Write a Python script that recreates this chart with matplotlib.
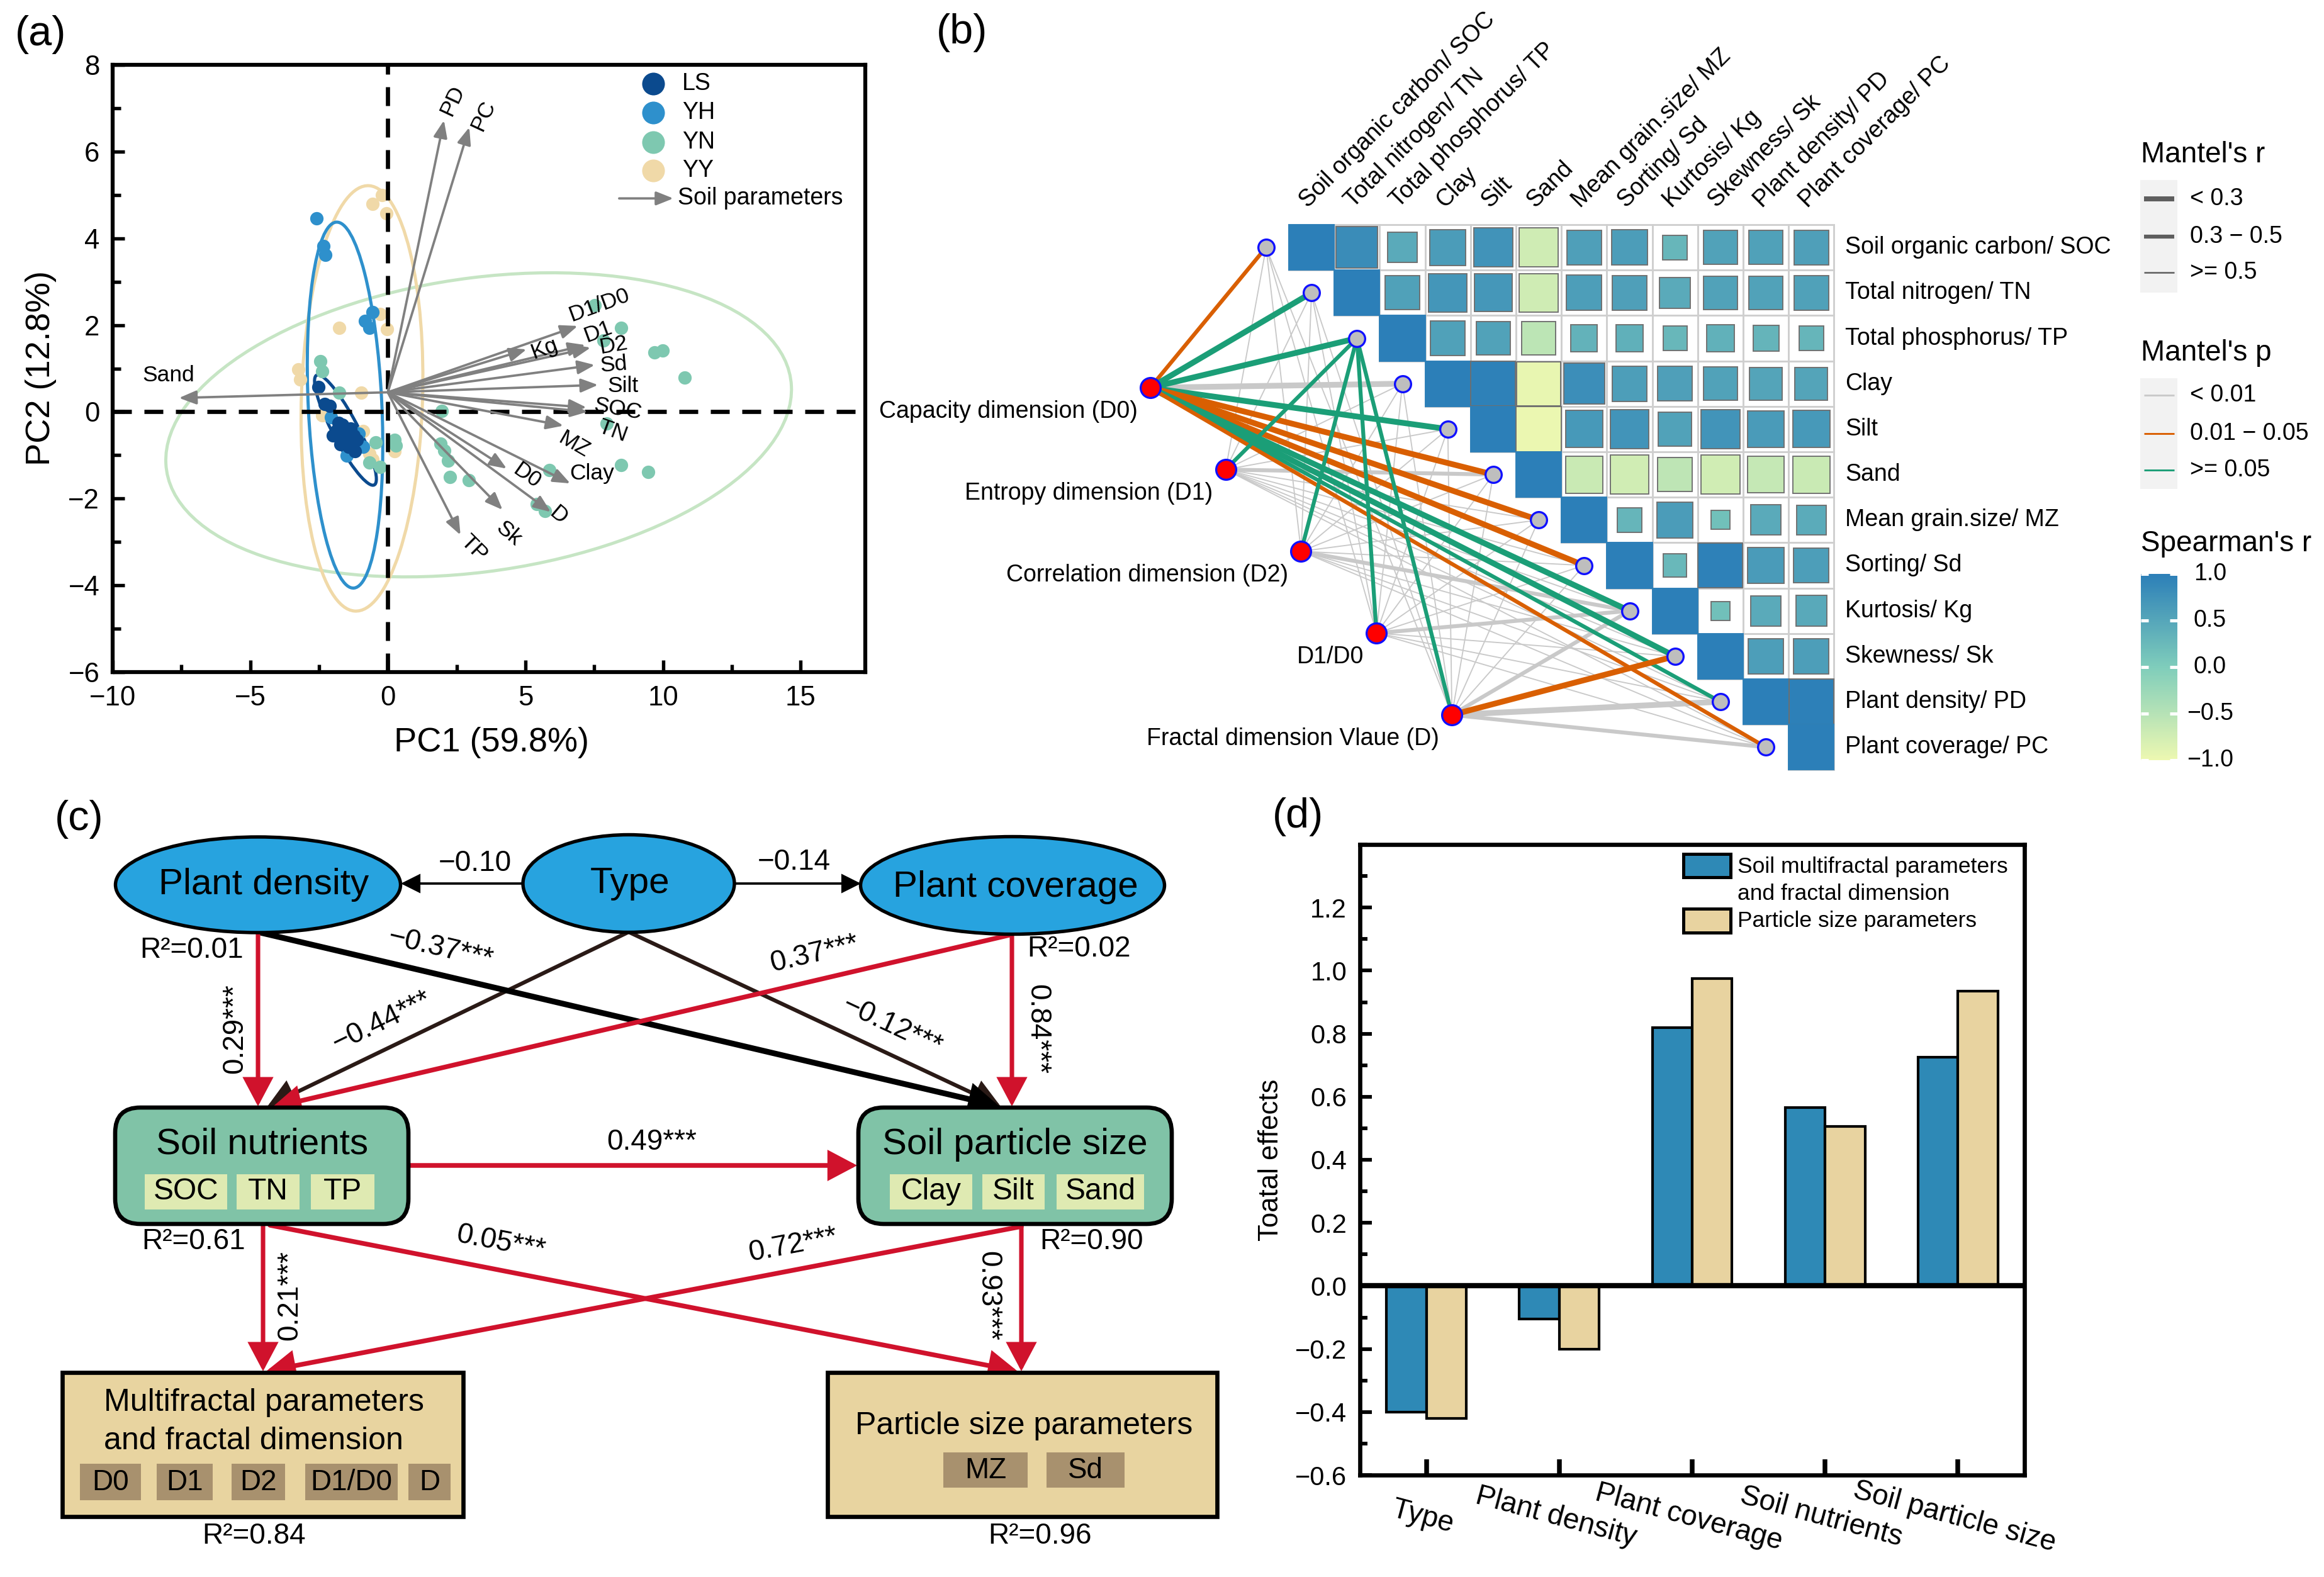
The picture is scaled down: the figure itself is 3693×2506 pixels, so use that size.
import numpy as np
import matplotlib
matplotlib.use('Agg')
import matplotlib.pyplot as plt
from matplotlib.patches import Ellipse, Rectangle, FancyBboxPatch, FancyArrowPatch
from matplotlib.colors import LinearSegmentedColormap, Normalize
import matplotlib.colorbar as mcb
from matplotlib.ticker import MultipleLocator

plt.rcParams['font.family'] = ['Liberation Sans', 'DejaVu Sans']
plt.rcParams['axes.unicode_minus'] = True

# ======================= DATA =======================
# ---- (a) PCA scores ----
ls_pc1 = [-2.53, -2.30, -2.12, -1.89, -1.58, -1.35, -1.43, -1.73, -2.00, -1.13, -1.20, -1.65, -1.50, -1.80, -1.25]
ls_pc2 = [0.57, 0.18, 0.13, -0.44, -0.60, -0.39, -0.81, -0.75, -0.55, -0.65, -0.91, -0.30, -0.50, -0.25, -0.55]
yh_pc1 = [-2.58, -2.33, -2.27, -0.55, -0.82, -0.67, -2.07, -1.05, -1.50, -0.90]
yh_pc2 = [4.46, 3.82, 3.62, 2.30, 2.10, 1.94, -0.13, -0.50, -1.01, -0.80]
yn_pc1 = [-2.46, -2.38, -1.77, 0.24, -0.45, -0.67, -0.29, 0.28, 7.52, 8.47, 7.83, 9.69, 9.99,
          10.79, 1.96, 1.92, 2.04, 2.19, 2.26, 2.95, 5.88, 8.47, 9.46, 5.42, 5.72, 7.94]
yn_pc2 = [1.16, 0.93, 0.44, -0.65, -0.70, -1.17, -1.27, -0.77, 2.46, 1.93, 1.64, 1.37, 1.42,
          0.79, 0.02, -0.73, -0.90, -1.12, -1.50, -1.58, -1.34, -1.22, -1.39, -2.12, -2.29, -0.27]
yy_pc1 = [-0.21, -0.55, -0.06, -1.77, -0.02, -0.29, -3.26, -3.18, -0.97, -2.38, -0.90, 0.24, -0.67, -0.55]
yy_pc2 = [5.00, 4.79, 4.58, 1.94, 1.91, 2.25, 0.98, 0.75, 0.44, -0.08, -0.44, -0.91, -0.96, -1.10]

# confidence ellipses (centre x, centre y, major, minor, angle in data units)
ell_ls = (-1.54, -0.42, 3.30, 0.80, -49.0)
ell_yh = (-1.555, 0.155, 8.46, 2.67, 94.5)
ell_yn = (3.30, -0.30, 22.8, 6.8, 4.5)
ell_yy = (-0.94, 0.31, 9.82, 4.40, 86.8)

# loadings (soil parameters)
loading_names = ['PD', 'PC', 'Sand', 'D1/D0', 'D1', 'D2', 'Kg', 'Sd', 'Silt', 'SOC', 'TN', 'MZ',
                 'Clay', 'D0', 'D', 'Sk', 'TP']
loading_x = [2.04, 2.96, -7.59, 6.90, 7.18, 7.37, 5.04, 7.52, 7.64, 7.22, 7.26, 6.38, 6.63, 4.32, 5.92, 4.17, 2.64]
loading_y = [6.72, 6.56, 0.32, 1.98, 1.54, 1.48, 1.44, 1.08, 0.62, 0.10, 0.00, -0.32, -1.65, -1.31, -2.31, -2.26, -2.84]
loading_origin = (0.0, 0.45)

# ---- (b) Spearman correlation (upper triangle rows) ----
corr_labels = ['Soil organic carbon/ SOC', 'Total nitrogen/ TN', 'Total phosphorus/ TP', 'Clay', 'Silt',
               'Sand', 'Mean grain.size/ MZ', 'Sorting/ Sd', 'Kurtosis/ Kg', 'Skewness/ Sk',
               'Plant density/ PD', 'Plant coverage/ PC']
spearman_rows = [
    [1.00, 0.83, 0.44, 0.62, 0.74, -0.72, 0.58, 0.61, 0.29, 0.55, 0.56, 0.58],
    [1.00, 0.56, 0.71, 0.69, -0.72, 0.60, 0.58, 0.45, 0.55, 0.55, 0.57],
    [1.00, 0.57, 0.55, -0.55, 0.34, 0.37, 0.28, 0.36, 0.32, 0.30],
    [1.00, 0.97, -0.95, 0.80, 0.60, 0.58, 0.55, 0.52, 0.52],
    [1.00, -0.98, 0.67, 0.73, 0.55, 0.73, 0.64, 0.67],
    [1.00, -0.67, -0.73, -0.57, -0.73, -0.64, -0.67],
    [1.00, 0.30, 0.63, 0.17, 0.44, 0.43],
    [1.00, 0.27, 0.97, 0.64, 0.60],
    [1.00, 0.17, 0.44, 0.46],
    [1.00, 0.60, 0.60],
    [1.00, 0.98],
    [1.00],
]
mantel_groups = ['Capacity dimension (D0)', 'Entropy dimension (D1)', 'Correlation dimension (D2)',
                 'D1/D0', 'Fractal dimension Vlaue (D)']
#                 SOC   TN    TP    Clay  Silt  Sand  MZ    Sd    Kg    Sk    PD    PC
mantel_r = [[0.35, 0.20, 0.15, 0.22, 0.20, 0.20, 0.20, 0.25, 0.20, 0.20, 0.35, 0.40],
            [0.60, 0.60, 0.35, 0.60, 0.60, 0.45, 0.60, 0.60, 0.60, 0.60, 0.60, 0.60],
            [0.60, 0.60, 0.35, 0.60, 0.60, 0.60, 0.60, 0.60, 0.45, 0.60, 0.60, 0.60],
            [0.60, 0.60, 0.35, 0.60, 0.60, 0.60, 0.60, 0.60, 0.45, 0.60, 0.60, 0.60],
            [0.60, 0.60, 0.35, 0.60, 0.60, 0.60, 0.60, 0.60, 0.40, 0.22, 0.20, 0.40]]
mantel_p = [[0.030, 0.200, 0.200, 0.005, 0.200, 0.030, 0.030, 0.030, 0.200, 0.200, 0.200, 0.030],
            [0.005, 0.005, 0.200, 0.005, 0.005, 0.005, 0.005, 0.005, 0.005, 0.005, 0.005, 0.005],
            [0.005, 0.005, 0.200, 0.005, 0.005, 0.005, 0.005, 0.005, 0.005, 0.005, 0.005, 0.005],
            [0.005, 0.005, 0.200, 0.005, 0.005, 0.005, 0.005, 0.005, 0.005, 0.005, 0.005, 0.005],
            [0.005, 0.005, 0.200, 0.005, 0.005, 0.005, 0.005, 0.005, 0.005, 0.030, 0.005, 0.005]]

# ---- (c) SEM path coefficients ----
path_type_pd = '−0.10'
path_type_pc = '−0.14'
path_labels = {
    'pd_sn': '0.29***', 'pd_sps': '−0.37***', 'type_sn': '−0.44***', 'type_sps': '−0.12***',
    'pc_sn': '0.37***', 'pc_sps': '0.84***', 'sn_sps': '0.49***', 'sn_mf': '0.21***',
    'sn_ps': '0.05***', 'sps_mf': '0.72***', 'sps_ps': '0.93***'}
r2_labels = {'pd': 'R²=0.01', 'pc': 'R²=0.02', 'sn': 'R²=0.61', 'sps': 'R²=0.90',
             'mf': 'R²=0.84', 'ps': 'R²=0.96'}

# ---- (d) total effects ----
effect_categories = ['Type', 'Plant density', 'Plant coverage', 'Soil nutrients', 'Soil particle size']
effect_multifractal = [-0.40, -0.105, 0.82, 0.565, 0.725]
effect_particle = [-0.42, -0.20, 0.975, 0.505, 0.935]

# ======================= FIGURE =======================
W, H = 3693, 2506
DPI = 300
fig = plt.figure(figsize=(W / DPI, H / DPI), dpi=DPI)


def fbox(x0, y0, x1, y1):
    return [x0 / W, 1 - y1 / H, (x1 - x0) / W, (y1 - y0) / H]


ov = fig.add_axes([0, 0, 1, 1])
ov.set_xlim(0, W)
ov.set_ylim(H, 0)
ov.axis('off')

for (x, y, t) in [(24, 55, '(a)'), (1488, 52, '(b)'), (87, 1302, '(c)'), (2022, 1298, '(d)')]:
    ov.text(x, y, t, fontsize=16, ha='left', va='center')

# ======================= (a) =======================
col_ls, col_yh, col_yn, col_yy = '#0b4a8e', '#2e90cc', '#7ec8b0', '#f0d9a8'
ecol_ls, ecol_yh, ecol_yn, ecol_yy = '#0b4a8e', '#2e90cc', '#c6e5c4', '#f0d9a8'

axA = fig.add_axes(fbox(179, 103, 1375, 1068))
axA.set_xlim(-10, 17.35)
axA.set_ylim(-6, 8)
for sp in axA.spines.values():
    sp.set_linewidth(1.5)
axA.xaxis.set_major_locator(MultipleLocator(5))
axA.xaxis.set_minor_locator(MultipleLocator(2.5))
axA.yaxis.set_major_locator(MultipleLocator(2))
axA.yaxis.set_minor_locator(MultipleLocator(1))
axA.tick_params(which='major', direction='in', length=4.5, width=1.3, labelsize=10.5, pad=5)
axA.tick_params(which='minor', direction='in', length=3, width=1.3)
axA.set_xlabel('PC1 (59.8%)', fontsize=13)
axA.set_ylabel('PC2 (12.8%)', fontsize=13)
axA.xaxis.set_label_coords(0.503, -0.09)
axA.yaxis.set_label_coords(-0.074, 0.5)

for (cx, cy, a, b, ang), ec, lw in [(ell_yn, ecol_yn, 1.2), (ell_yy, ecol_yy, 1.2),
                                     (ell_yh, ecol_yh, 1.2), (ell_ls, ecol_ls, 1.2)]:
    axA.add_patch(Ellipse((cx, cy), a, b, angle=ang, facecolor='none', edgecolor=ec, lw=lw, zorder=1))

ms = 26
axA.scatter(yy_pc1, yy_pc2, s=ms, color=col_yy, zorder=2, linewidths=0)
axA.scatter(yn_pc1, yn_pc2, s=ms, color=col_yn, zorder=2, linewidths=0)
axA.scatter(yh_pc1, yh_pc2, s=ms, color=col_yh, zorder=2, linewidths=0)
axA.scatter(ls_pc1, ls_pc2, s=ms, color=col_ls, zorder=2, linewidths=0)

axA.axvline(0, color='black', lw=1.6, ls=(0, (4.5, 3)), zorder=2.5)
axA.axhline(0, color='black', lw=1.6, ls=(0, (4.5, 3)), zorder=2.5)

for x, y in zip(loading_x, loading_y):
    axA.annotate('', xy=(x, y), xytext=loading_origin,
                 arrowprops=dict(arrowstyle='-|>,head_length=0.55,head_width=0.22', mutation_scale=10,
                                 color='#808080', lw=0.9, shrinkA=0, shrinkB=0), zorder=3)

lab_x = [2.35, 3.47, -7.96, 7.68, 7.64, 8.20, 5.69, 8.20, 8.55, 8.36, 8.17, 6.76, 7.41, 5.04, 6.19, 4.40, 3.13]
lab_y = [7.17, 6.83, 0.84, 2.46, 1.85, 1.54, 1.45, 1.08, 0.60, 0.06, -0.44, -0.76, -1.43, -1.48, -2.38, -2.81, -3.15]
lab_rot = [65, 65, 0, 20, 20, 10, 20, 5, 0, -10, -20, -30, 0, -35, -40, -40, -45]
for name, x, y, r in zip(loading_names, lab_x, lab_y, lab_rot):
    axA.text(x, y, name, fontsize=8.5, ha='center', va='center', rotation=r, rotation_mode='anchor', zorder=4)

# legend (a)
leg_y = [0.969, 0.921, 0.873, 0.826]
for yy, c, t in zip(leg_y, [col_ls, col_yh, col_yn, col_yy], ['LS', 'YH', 'YN', 'YY']):
    axA.scatter([0.718], [yy], s=75, color=c, transform=axA.transAxes, clip_on=False, zorder=5, linewidths=0)
    axA.text(0.757, yy, t, transform=axA.transAxes, fontsize=9, va='center', ha='left')
axA.annotate('', xy=(0.745, 0.780), xytext=(0.673, 0.780), xycoords='axes fraction',
             arrowprops=dict(arrowstyle='-|>,head_length=0.55,head_width=0.22', mutation_scale=10,
                             color='#808080', lw=0.9, shrinkA=0, shrinkB=0))
axA.text(0.751, 0.780, 'Soil parameters', transform=axA.transAxes, fontsize=9, va='center', ha='left')

# ======================= (b) =======================
cmap = LinearSegmentedColormap.from_list('spear', ['#edf8b1', '#7fcdbb', '#2c7fb8'])
norm = Normalize(-1, 1)
cell = 72.2
gx0, gy0 = 2048, 357
axB = fig.add_axes(fbox(1400, 0, 3693, 1250))
axB.set_xlim((1400 - gx0) / cell, (3693 - gx0) / cell)
axB.set_ylim((1250 - gy0) / cell, (0 - gy0) / cell)
axB.axis('off')

n = len(corr_labels)
for i, row in enumerate(spearman_rows):
    for k, r in enumerate(row):
        j = i + k
        axB.add_patch(Rectangle((j, i), 1, 1, facecolor='white', edgecolor='#cfcfcf', lw=0.7, zorder=1))
for i, row in enumerate(spearman_rows):
    for k, r in enumerate(row):
        j = i + k
        s = np.sqrt(abs(r))
        ec = cmap(norm(r)) if j == i else '#6e6e6e'
        axB.add_patch(Rectangle((j + 0.5 - s / 2, i + 0.5 - s / 2), s, s, facecolor=cmap(norm(r)),
                                edgecolor=ec, lw=0.45, zorder=2))

for j, lab in enumerate(corr_labels):
    axB.text(j + 0.5, -0.28, lab, rotation=45, rotation_mode='anchor', ha='left', va='bottom', fontsize=9)
    axB.text(12.25, j + 0.5, lab, ha='left', va='center', fontsize=9)

red_x = np.linspace(-3.05, 3.59, 5)
red_y = np.linspace(3.59, 10.79, 5)
node_x = np.arange(n) - 0.5
node_y = np.arange(n) + 0.5


def p_col(p):
    return '#c9c9c9' if p < 0.01 else ('#d95f02' if p < 0.05 else '#1b9e77')


def r_lw(r):
    return 2.2 if r < 0.3 else (1.5 if r < 0.5 else 0.45)


links = []
for g in range(5):
    for v in range(n):
        links.append((g, v, mantel_r[g][v], mantel_p[g][v]))
links.sort(key=lambda t: (0 if t[3] < 0.01 else 1))
for g, v, r, p in links:
    axB.plot([red_x[g], node_x[v]], [red_y[g], node_y[v]], color=p_col(p), lw=r_lw(r),
             solid_capstyle='butt', zorder=3 if p < 0.01 else 4)

axB.scatter(node_x, node_y, s=38, facecolor='#bebebe', edgecolor='#1010ff', linewidths=0.8, zorder=6)
axB.scatter(red_x, red_y, s=58, facecolor='#ff0000', edgecolor='#1010ff', linewidths=0.8, zorder=6)
for g, lab in enumerate(mantel_groups):
    axB.text(red_x[g] - 0.28, red_y[g] + 0.52, lab, ha='right', va='center', fontsize=9)

# legends (b)
ov.text(3402, 246, "Mantel's r", fontsize=11, ha='left', va='center')
ov.add_patch(Rectangle((3401, 286), 59, 179, facecolor='#f2f2f2', edgecolor='none'))
for yy, lw, t in [(316, 1.9, '< 0.3'), (376, 1.5, '0.3 − 0.5'), (433, 0.6, '>= 0.5')]:
    ov.plot([3407, 3455], [yy, yy], color='#5e5e5e', lw=lw, solid_capstyle='butt')
    ov.text(3480, yy, t, fontsize=9, ha='left', va='center')
ov.text(3402, 561, "Mantel's p", fontsize=11, ha='left', va='center')
ov.add_patch(Rectangle((3401, 601), 59, 176, facecolor='#f2f2f2', edgecolor='none'))
for yy, c, t in [(628, '#c9c9c9', '< 0.01'), (689, '#d95f02', '0.01 − 0.05'), (747, '#1b9e77', '>= 0.05')]:
    ov.plot([3407, 3455], [yy, yy], color=c, lw=0.7, solid_capstyle='butt')
    ov.text(3480, yy, t, fontsize=9, ha='left', va='center')
ov.text(3402, 864, "Spearman's r", fontsize=11, ha='left', va='center')
cb_top, cb_bot = 912, 1208
cax = fig.add_axes(fbox(3402, cb_top, 3460, cb_bot))
cb = mcb.ColorbarBase(cax, cmap=cmap, norm=norm, orientation='vertical')
cb.outline.set_visible(False)
cax.set_yticks([])
cax.set_xticks([])
for v in [-1, -0.5, 0, 0.5, 1]:
    cax.plot([0, 0.2], [v, v], color='white', lw=1.2, clip_on=False, solid_capstyle='butt')
    cax.plot([0.8, 1], [v, v], color='white', lw=1.2, clip_on=False, solid_capstyle='butt')
    ypx = cb_bot - (v + 1) / 2 * (cb_bot - cb_top)
    ov.text(3512, ypx, f'{v:.1f}'.replace('-', '−'), fontsize=9, ha='center', va='center')

# ======================= (c) =======================
RED = '#d0122c'
BLUE_FILL = '#27a3df'
TEAL_FILL = '#80c3a7'
INNER_G = '#dfeab2'
WHEAT = '#e8d4a0'
BROWN = '#a8916e'


def arr(p0, p1, color, lw, hl=0.85, hw=0.45, z=2):
    ov.add_patch(FancyArrowPatch(p0, p1, arrowstyle=f'-|>,head_length={hl},head_width={hw}',
                                 mutation_scale=10, color=color, lw=lw, shrinkA=0, shrinkB=0,
                                 joinstyle='miter', zorder=z))


# arrows
arr((831, 1404), (637, 1404), 'black', 0.9, 0.6, 0.3)
arr((1167, 1404), (1368, 1404), 'black', 0.9, 0.6, 0.3)
arr((999, 1481), (425, 1758), '#2a1a16', 1.5)
arr((999, 1481), (1590, 1758), '#2a1a16', 1.5)
arr((414, 1482), (1588, 1758), 'black', 2.2)
arr((410, 1482), (410, 1758), RED, 1.7)
arr((1608, 1485), (432, 1760), RED, 1.8)
arr((1608, 1485), (1608, 1758), RED, 1.7)
arr((649, 1852), (1362, 1852), RED, 1.8)
arr((418, 1945), (418, 2179), RED, 1.7)
arr((429, 1947), (1617, 2179), RED, 1.8)
arr((1623, 1949), (423, 2179), RED, 1.8)
arr((1623, 1949), (1623, 2179), RED, 1.7)

# ellipses
for cx, cy, w, h, t, tx, ty in [(410, 1406, 453, 152, 'Plant density', 419, 1406),
                                 (999, 1404, 336, 155, 'Type', 1001, 1404),
                                 (1609, 1407, 483, 155, 'Plant coverage', 1614, 1410)]:
    ov.add_patch(Ellipse((cx, cy), w, h, facecolor=BLUE_FILL, edgecolor='black', lw=1.3, zorder=3))
    ov.text(tx, ty, t, fontsize=14, ha='center', va='center', zorder=4)

# rounded boxes
for x0, x1, t, tx in [(183, 649, 'Soil nutrients', 417), (1364, 1862, 'Soil particle size', 1613)]:
    ov.add_patch(FancyBboxPatch((x0, 1760), x1 - x0, 185, boxstyle='round,pad=0,rounding_size=40',
                                facecolor=TEAL_FILL, edgecolor='black', lw=1.6, zorder=3))
    ov.text(tx, 1819, t, fontsize=14, ha='center', va='center', zorder=4)
for x0, x1, t in [(230, 361, 'SOC'), (376, 476, 'TN'), (494, 595, 'TP'),
                  (1414, 1545, 'Clay'), (1561, 1660, 'Silt'), (1679, 1818, 'Sand')]:
    ov.add_patch(Rectangle((x0, 1866), x1 - x0, 56, facecolor=INNER_G, edgecolor='none', zorder=4))
    ov.text((x0 + x1) / 2, 1894, t, fontsize=11.5, ha='center', va='center', zorder=5)

# bottom boxes
ov.add_patch(Rectangle((99, 2181), 637, 229, facecolor=WHEAT, edgecolor='black', lw=1.6, zorder=3))
ov.add_patch(Rectangle((1315, 2181), 619, 229, facecolor=WHEAT, edgecolor='black', lw=1.6, zorder=3))
ov.text(165, 2229, 'Multifractal parameters', fontsize=12, ha='left', va='center', zorder=4)
ov.text(165, 2290, 'and fractal dimension', fontsize=12, ha='left', va='center', zorder=4)
ov.text(1627, 2266, 'Particle size parameters', fontsize=12, ha='center', va='center', zorder=4)
for x0, x1, t in [(127, 224, 'D0'), (249, 338, 'D1'), (368, 453, 'D2'), (485, 632, 'D1/D0'), (649, 716, 'D')]:
    ov.add_patch(Rectangle((x0, 2326), x1 - x0, 58, facecolor=BROWN, edgecolor='none', zorder=4))
    ov.text((x0 + x1) / 2, 2356, t, fontsize=11, ha='center', va='center', zorder=5)
for x0, x1, t in [(1499, 1633, 'MZ'), (1663, 1787, 'Sd')]:
    ov.add_patch(Rectangle((x0, 2308), x1 - x0, 56, facecolor=BROWN, edgecolor='none', zorder=4))
    ov.text((x0 + x1) / 2, 2337, t, fontsize=11, ha='center', va='center', zorder=5)

# path labels
fs = 11
ov.text(755, 1372, path_type_pd, fontsize=fs, ha='center', va='center')
ov.text(1262, 1370, path_type_pc, fontsize=fs, ha='center', va='center')
for key, (x, y, rot) in {'pd_sn': (373, 1635, 90), 'pd_sps': (700, 1508, -13.2),
                         'type_sn': (607, 1623, 25.8), 'type_sps': (1418, 1631, -25.1),
                         'pc_sn': (1294, 1516, 13.1), 'pc_sps': (1648, 1635, -90),
                         'sn_sps': (1036, 1815, 0), 'sn_mf': (460, 2059, 90),
                         'sn_ps': (796, 1975, -11), 'sps_mf': (1260, 1979, 10.8),
                         'sps_ps': (1570, 2059, -90)}.items():
    ov.text(x, y, path_labels[key], fontsize=fs, ha='center', va='center', rotation=rot,
            rotation_mode='anchor')
for key, (x, y) in {'pd': (305, 1510), 'pc': (1714, 1508), 'sn': (308, 1973), 'sps': (1735, 1973),
                    'mf': (404, 2441), 'ps': (1652, 2441)}.items():
    ov.text(x, y, r2_labels[key], fontsize=fs, ha='center', va='center')

# ======================= (d) =======================
C_BLUE = '#2e89b6'
C_WHEAT = '#e8d3a0'
axD = fig.add_axes(fbox(2161, 1342, 3217, 2344))
xc = np.arange(len(effect_categories))
axD.bar(xc - 0.15, effect_multifractal, width=0.3, color=C_BLUE, edgecolor='black', lw=1.0, zorder=2)
axD.bar(xc + 0.15, effect_particle, width=0.3, color=C_WHEAT, edgecolor='black', lw=1.0, zorder=2)
axD.axhline(0, color='black', lw=2.0, zorder=3)
axD.set_xlim(-0.5, 4.5)
axD.set_ylim(-0.6, 1.4)
for sp in axD.spines.values():
    sp.set_linewidth(1.6)
yt = np.round(np.arange(-0.6, 1.21, 0.2), 1)
axD.set_yticks(yt)
axD.set_yticklabels([f'{v:.1f}'.replace('-', '−') for v in yt])
axD.yaxis.set_minor_locator(MultipleLocator(0.1))
axD.tick_params(axis='y', which='major', direction='in', length=4.5, width=1.4, labelsize=10, pad=5)
axD.tick_params(axis='y', which='minor', direction='in', length=2.8, width=1.4)
axD.set_xticks(xc)
axD.set_xticklabels(effect_categories, rotation=-15, ha='center', rotation_mode='anchor', fontsize=11)
axD.tick_params(axis='x', which='major', direction='in', length=6, width=1.8, pad=11)
axD.set_ylabel('Toatal effects', fontsize=10.5)
axD.yaxis.set_label_coords(-0.115, 0.5)

axD.add_patch(Rectangle((0.487, 0.948), 0.071, 0.037, transform=axD.transAxes, facecolor=C_BLUE,
                        edgecolor='black', lw=1.2, zorder=5))
axD.add_patch(Rectangle((0.487, 0.860), 0.071, 0.038, transform=axD.transAxes, facecolor=C_WHEAT,
                        edgecolor='black', lw=1.2, zorder=5))
axD.text(0.568, 0.965, 'Soil multifractal parameters', transform=axD.transAxes, fontsize=8.5, va='center')
axD.text(0.568, 0.922, 'and fractal dimension', transform=axD.transAxes, fontsize=8.5, va='center')
axD.text(0.568, 0.879, 'Particle size parameters', transform=axD.transAxes, fontsize=8.5, va='center')

fig.savefig('out.png', dpi=DPI)
